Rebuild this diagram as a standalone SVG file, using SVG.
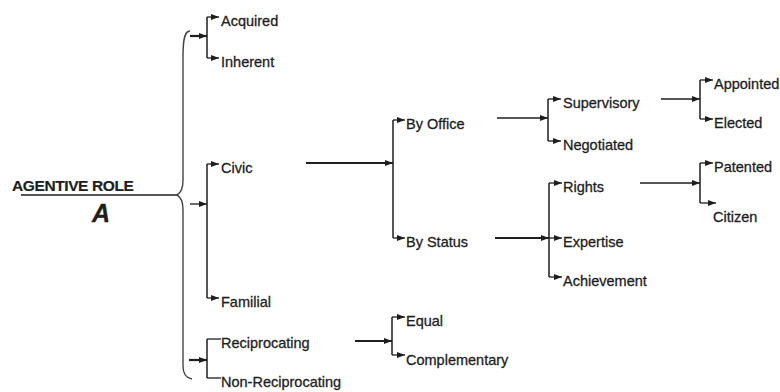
<svg xmlns="http://www.w3.org/2000/svg" width="780" height="392" viewBox="0 0 780 392">
<defs>
<style>
text{font-family:"Liberation Sans",Arial,sans-serif;font-size:14.5px;fill:#1e1e1e;stroke:#1e1e1e;stroke-width:0.3}
.title{font-weight:bold;font-size:15.5px;letter-spacing:-0.4px;stroke-width:0.2}
.big{font-weight:bold;font-style:italic;font-size:25px}
.ln{stroke:#1e1e1e;stroke-width:1.3;fill:none}
.thk{stroke:#1e1e1e;stroke-width:2.2;fill:none}
.br{stroke:#1e1e1e;stroke-width:1.5;fill:none}
.brace{stroke:#444;stroke-width:1.4;fill:none}
.ar{marker-end:url(#ah)}
</style>
<marker id="ah" viewBox="0 0 8 6" refX="8" refY="3" markerWidth="8" markerHeight="6" markerUnits="userSpaceOnUse" orient="auto">
<path d="M0,0 L8,3 L0,6 z" fill="#1e1e1e"/>
</marker>
</defs>
<rect width="780" height="392" fill="#fff"/>

<g id="connectors">
<!-- root brace -->
<line class="ln" x1="21" y1="195" x2="177" y2="195"/>
<path class="brace" d="M190,31 C185,31 183,38 183,56 L183,180 C183,189 181,193 177,195 C181,197 183,201 183,210 L183,366 C183,373 186,378 192,379"/>
<!-- level 1 incoming -->
<line class="thk ar" x1="190" y1="36" x2="207" y2="36"/>
<line class="ln ar" x1="190" y1="204" x2="207" y2="204"/>
<line class="thk ar" x1="189" y1="360" x2="207" y2="360"/>
<!-- level 1 brackets -->
<line class="br" x1="207" y1="17" x2="207" y2="58"/>
<line class="ln ar" x1="207" y1="17" x2="219" y2="17"/>
<line class="ln ar" x1="207" y1="58" x2="219" y2="58"/>
<line class="br" x1="207" y1="164" x2="207" y2="298"/>
<line class="ln ar" x1="207" y1="164" x2="219" y2="164"/>
<line class="ln ar" x1="207" y1="298" x2="219" y2="298"/>
<line class="br" x1="207" y1="339" x2="207" y2="378"/>
<line class="ln" x1="207" y1="339" x2="221" y2="339"/>
<line class="ln" x1="207" y1="378" x2="221" y2="378"/>
<!-- Civic -> By Office / By Status -->
<line class="thk ar" x1="306" y1="163" x2="393" y2="163"/>
<line class="br" x1="393" y1="120" x2="393" y2="238"/>
<line class="ln ar" x1="393" y1="120" x2="405" y2="120"/>
<line class="ln ar" x1="393" y1="238" x2="405" y2="238"/>
<!-- By Office -> Supervisory / Negotiated -->
<line class="ln ar" x1="497" y1="118" x2="548" y2="118"/>
<line class="br" x1="548" y1="99" x2="548" y2="141"/>
<line class="ln ar" x1="548" y1="99" x2="561" y2="99"/>
<line class="ln ar" x1="548" y1="141" x2="561" y2="141"/>
<!-- By Status -> Rights / Expertise / Achievement -->
<line class="thk ar" x1="495" y1="238" x2="549" y2="238"/>
<line class="br" x1="549" y1="183" x2="549" y2="277"/>
<line class="ln ar" x1="549" y1="183" x2="562" y2="183"/>
<line class="ln ar" x1="549" y1="238" x2="562" y2="238"/>
<line class="ln ar" x1="549" y1="277" x2="562" y2="277"/>
<!-- Supervisory -> Appointed / Elected -->
<line class="ln ar" x1="661" y1="99" x2="700" y2="99"/>
<line class="br" x1="700" y1="80" x2="700" y2="119"/>
<line class="ln ar" x1="700" y1="80" x2="713" y2="80"/>
<line class="ln ar" x1="700" y1="119" x2="713" y2="119"/>
<!-- Rights -> Patented / Citizen -->
<line class="ln ar" x1="640" y1="183" x2="700" y2="183"/>
<line class="br" x1="700" y1="163" x2="700" y2="203"/>
<line class="ln ar" x1="700" y1="163" x2="713" y2="163"/>
<line class="ln ar" x1="700" y1="203" x2="716" y2="203"/>
<!-- Reciprocating -> Equal / Complementary -->
<line class="thk ar" x1="355" y1="341" x2="392" y2="341"/>
<line class="br" x1="392" y1="317" x2="392" y2="355"/>
<line class="ln ar" x1="392" y1="317" x2="405" y2="317"/>
<line class="ln ar" x1="392" y1="355" x2="405" y2="355"/>
</g>

<g id="agentive-role">
<text class="title" x="12" y="191">AGENTIVE ROLE</text>
<text class="big" x="101" y="222" text-anchor="middle">A</text>
</g>
<g id="acquired"><text x="221" y="26">Acquired</text></g>
<g id="inherent"><text x="221" y="67">Inherent</text></g>
<g id="civic"><text x="221" y="173">Civic</text></g>
<g id="familial"><text x="221" y="307">Familial</text></g>
<g id="reciprocating"><text x="221" y="348">Reciprocating</text></g>
<g id="non-reciprocating"><text x="221" y="387">Non-Reciprocating</text></g>
<g id="by-office"><text x="406" y="129">By Office</text></g>
<g id="by-status"><text x="406" y="247">By Status</text></g>
<g id="supervisory"><text x="563" y="108">Supervisory</text></g>
<g id="negotiated"><text x="563" y="150">Negotiated</text></g>
<g id="rights"><text x="563" y="192">Rights</text></g>
<g id="expertise"><text x="563" y="247">Expertise</text></g>
<g id="achievement"><text x="563" y="286">Achievement</text></g>
<g id="appointed"><text x="714" y="89">Appointed</text></g>
<g id="elected"><text x="714" y="128">Elected</text></g>
<g id="patented"><text x="714" y="172">Patented</text></g>
<g id="citizen"><text x="713" y="222">Citizen</text></g>
<g id="equal"><text x="406" y="326">Equal</text></g>
<g id="complementary"><text x="406" y="365">Complementary</text></g>
</svg>
